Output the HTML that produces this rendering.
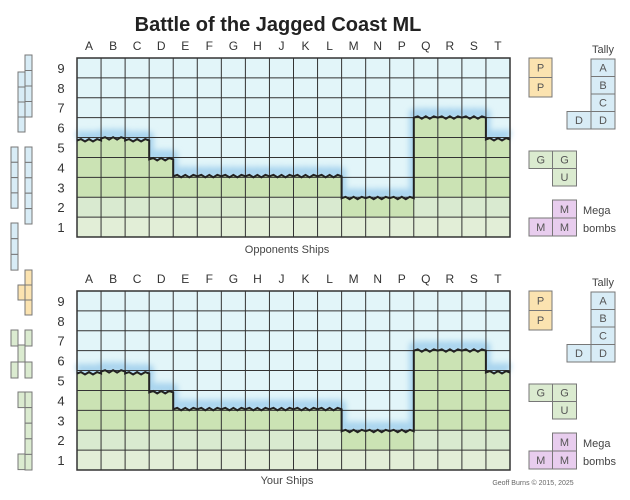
<!DOCTYPE html>
<html><head><meta charset="utf-8"><style>
html,body{margin:0;padding:0;background:#fff;width:630px;height:500px;overflow:hidden}
svg{display:block;font-family:"Liberation Sans","DejaVu Sans",sans-serif}
</style></head><body>
<svg id="s" width="630" height="500" viewBox="0 0 630 500">
<defs><filter id="blur" x="-10%" y="-50%" width="120%" height="200%"><feGaussianBlur stdDeviation="3"/></filter></defs>
<text x="278" y="31" text-anchor="middle" font-size="20" font-weight="bold" fill="#222">Battle of the Jagged Coast ML</text>
<g id="boards"></g>
<g id="pieces"></g>
<text x="287" y="253" text-anchor="middle" font-size="11" fill="#444">Opponents Ships</text>
<text x="287" y="484" text-anchor="middle" font-size="11" fill="#444">Your Ships</text>
<text x="533" y="485" text-anchor="middle" font-size="7" fill="#666">Geoff Burns © 2015, 2025</text>
</svg>
<script>
const columns = ["A","B","C","D","E","F","G","H","J","K","L","M","N","P","Q","R","S","T"];
const rowLabels = ["9","8","7","6","5","4","3","2","1"];
// land top per column, in rows from the top edge
const coastTop = [4.15,4.05,4.15,5.1,5.95,5.95,5.95,5.95,5.95,5.95,5.95,7.05,7.05,7.05,3.0,3.0,3.0,4.1];
const boardTops = [58, 291];
const NS = "http://www.w3.org/2000/svg";
const X0 = 77, X1 = 510, CW = (X1 - X0) / columns.length, RH = 179 / rowLabels.length;
function el(tag, attrs, parent) { const e = document.createElementNS(NS, tag); for (const k in attrs) e.setAttribute(k, attrs[k]); parent.appendChild(e); return e; }
const boards = document.getElementById('boards');
function xs(i) { return X0 + i * CW; }
boardTops.forEach((Y0, b) => {
  const g = el('g', {}, boards);
  
  
  const ys = r => Y0 + r * RH;
  el('rect', {x: X0, y: Y0, width: X1 - X0, height: 179, fill: '#e2f5f9'}, g);
  // coast path
  let pts = [];
  coastTop.forEach((t, i) => {
    const n = 6;
    for (let k = 0; k <= n; k++) {
      const x = xs(i) + CW * k / n;
      const w = (k === 0 || k === n) ? 0 : ((k % 2) ? -1.4 : 1.0);
      pts.push([x, ys(t) + w]);
    }
  });
  const d = 'M' + pts.map(p => p[0].toFixed(1) + ',' + p[1].toFixed(1)).join(' L');
  el('path', {d: d, fill: 'none', stroke: '#a9d4ee', 'stroke-width': 9, filter: 'url(#blur)', transform: 'translate(0,-4)'}, g);
  el('path', {d: d + ` L${X1},${ys(9)} L${X0},${ys(9)} Z`, fill: '#cbe3b4'}, g);
  // lighter lower cells
  coastTop.forEach((t, i) => {
    for (let r = 6; r < 9; r++) {
      if (r < t) continue;
      const light = r >= 7 && !(i >= 11 && i <= 13 && r === 7);
      if (!light) continue;
      el('rect', {x: xs(i), y: ys(r), width: CW, height: RH, fill: r === 8 ? '#e2eed7' : '#d9ead0'}, g);
    }
  });
  // grid
  for (let i = 0; i <= columns.length; i++) el('line', {x1: xs(i), y1: Y0, x2: xs(i), y2: ys(9), stroke: '#333', 'stroke-width': 1}, g);
  for (let r = 0; r <= 9; r++) el('line', {x1: X0, y1: ys(r), x2: X1, y2: ys(r), stroke: '#333', 'stroke-width': 1}, g);
  el('rect', {x: X0, y: Y0, width: X1 - X0, height: 179, fill: 'none', stroke: '#333', 'stroke-width': 1.5}, g);
  el('path', {d: d, fill: 'none', stroke: '#222', 'stroke-width': 2}, g);
  columns.forEach((c, i) => {
    const t = el('text', {x: xs(i) + CW / 2, y: Y0 - 8, 'text-anchor': 'middle', 'font-size': 12, fill: '#333'}, g);
    t.textContent = c;
    
    
  });
  rowLabels.forEach((r, i) => {
    const t = el('text', {x: 61, y: ys(i) + RH / 2 + 5, 'text-anchor': 'middle', 'font-size': 13, fill: '#333'}, g);
    t.textContent = r;
    
    
  });
});
const pieces = document.getElementById('pieces');
function cell(x, y, w, h, fill, label, fs, name) {
  const r = el('rect', {x: x, y: y, width: w, height: h, fill: fill, stroke: '#777', 'stroke-width': 1}, pieces);
  
  
  if (label) { const t = el('text', {x: x + w / 2, y: y + h / 2 + fs * 0.36, 'text-anchor': 'middle', 'font-size': fs, fill: '#555'}, pieces); t.textContent = label; }
}
const BLUE = '#d8ecf6', ORG = '#fbe3b0', GRN = '#dbebd0', PUR = '#e8cdee';
[0, 233].forEach(o => {
  cell(529, 58 + o, 23, 19.5, ORG, 'P', 11, 'p-piece');
  cell(529, 77.5 + o, 23, 19.5, ORG, 'P', 11, 'p-piece');
  ['A','B','C','D'].forEach((l, i) => cell(591, 59 + o + i * 17.5, 24, 17.5, BLUE, l, 11, 'tally-cell'));
  cell(567, 111.5 + o, 24, 17.5, BLUE, 'D', 11, 'tally-cell');
  const tl = el('text', {x: 603, y: 53 + o, 'text-anchor': 'middle', 'font-size': 11, fill: '#444'}, pieces); tl.textContent = 'Tally';
  cell(529, 151 + o, 23.5, 17.5, GRN, 'G', 11, 'g-piece');
  cell(552.5, 151 + o, 24, 17.5, GRN, 'G', 11, 'g-piece');
  cell(552.5, 168.5 + o, 24, 17.5, GRN, 'U', 11, 'u-piece');
  cell(552.5, 200 + o, 24, 18, PUR, 'M', 11, 'mega-bomb');
  cell(529, 218 + o, 23.5, 18, PUR, 'M', 11, 'mega-bomb');
  cell(552.5, 218 + o, 24, 18, PUR, 'M', 11, 'mega-bomb');
  const m1 = el('text', {x: 583, y: 214 + o, 'font-size': 11, fill: '#444'}, pieces); m1.textContent = 'Mega';
  const m2 = el('text', {x: 583, y: 232 + o, 'font-size': 11, fill: '#444'}, pieces); m2.textContent = 'bombs';
});
function ship(x, y0, n, h, fill) { for (let k = 0; k < n; k++) cell(x, y0 + k * h, 7, h, fill, '', 4, 'ship-segment'); }
ship(25, 55, 4, 15.5, BLUE); ship(18, 72, 4, 15, BLUE);
ship(11, 147, 4, 15.3, BLUE); ship(25, 147, 5, 15.4, BLUE);
ship(11, 223, 3, 15.7, BLUE);
ship(25, 270, 3, 15, ORG); ship(18, 285, 1, 15, ORG);
ship(11, 330, 1, 16, GRN); ship(11, 362, 1, 16, GRN); ship(25, 330, 1, 16, GRN); ship(25, 362, 1, 16, GRN); ship(18, 345, 1, 17, GRN);
ship(25, 392, 5, 15.6, GRN); ship(18, 392, 1, 15.6, GRN); ship(18, 454, 1, 15.6, GRN);
</script>
</body></html>
